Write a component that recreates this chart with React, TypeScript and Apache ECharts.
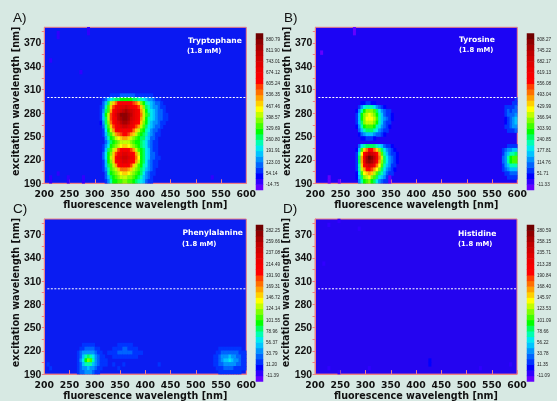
import React, { useEffect, useRef } from "react";
import * as echarts from "echarts";

const xCategories: string[] = [];
for (let x = 202.5; x < 600; x += 5) xCategories.push(String(x));
const yCategories: string[] = [];
for (let y = 192.5; y < 390; y += 5) yCategories.push(String(y));

const yLabels = [190, 220, 250, 280, 310, 340, 370];
const yTickMarks = [190, 205, 220, 235, 250, 265, 280, 295, 310, 325, 340, 355, 370, 385];

const palette = ["#6400ff", "#3000ff", "#0000ff", "#0034ff", "#0064ff", "#0094ff", "#00c4ff", "#00eaf0", "#00ffb0", "#00ff60", "#00ff00", "#40ff00", "#80ff00", "#c0ff00", "#ffff00", "#ffd000", "#ffa000", "#ff7000", "#ff4000", "#ff0000", "#f80000", "#ee0000", "#e00000", "#d00000", "#c00000", "#a80000", "#900000", "#700000"];

const trpLabels = ["880.79", "811.90", "743.01", "674.12", "605.24", "536.35", "467.46", "398.57", "329.69", "260.80", "191.91", "123.03", "54.14", "-14.75"];
const tyrLabels = ["808.27", "745.22", "682.17", "619.13", "556.08", "493.04", "429.99", "366.94", "303.90", "240.85", "177.81", "114.76", "51.71", "-11.33"];
const pheLabels = ["282.25", "259.66", "237.08", "214.49", "191.90", "169.31", "146.72", "124.14", "101.55", "78.96", "56.37", "33.79", "11.20", "-11.39"];
const hisLabels = ["280.59", "258.15", "235.71", "213.28", "190.84", "168.40", "145.97", "123.53", "101.09", "78.66", "56.22", "33.78", "11.35", "-11.09"];

// Tryptophane peak (zero cells keep the plot's background)
const trpXs = [312.5, 317.5, 322.5, 327.5, 332.5, 337.5, 342.5, 347.5, 352.5, 357.5, 362.5, 367.5, 372.5, 377.5, 382.5, 387.5, 392.5, 397.5, 402.5, 407.5, 412.5, 417.5, 422.5, 427.5, 432.5, 437.5, 442.5];
const trpYs = [302.5, 297.5, 292.5, 287.5, 282.5, 277.5, 272.5, 267.5, 262.5, 257.5, 252.5, 247.5, 242.5, 237.5, 232.5, 227.5, 222.5, 217.5, 212.5, 207.5, 202.5, 197.5, 192.5];
const trpValues = [
  [0, 0, 0, 0, 60, 70, 80, 85, 90, 95, 95, 95, 95, 90, 85, 85, 80, 75, 70, 65, 60, 0, 0, 0, 0, 0, 0],
  [0, 60, 110, 170, 220, 260, 280, 290, 300, 305, 310, 310, 305, 295, 280, 260, 235, 205, 175, 150, 125, 105, 85, 70, 0, 0, 0],
  [0, 90, 180, 290, 400, 500, 570, 610, 640, 650, 655, 650, 630, 600, 550, 470, 390, 310, 250, 205, 170, 140, 115, 95, 75, 0, 0],
  [55, 120, 230, 330, 470, 600, 650, 680, 710, 735, 745, 730, 700, 670, 630, 590, 480, 370, 290, 235, 190, 155, 130, 105, 85, 60, 0],
  [60, 150, 270, 350, 520, 630, 680, 710, 770, 810, 830, 810, 770, 730, 680, 640, 530, 410, 320, 250, 200, 165, 140, 115, 90, 70, 0],
  [60, 170, 300, 430, 590, 660, 710, 790, 850, 875, 870, 830, 780, 740, 690, 650, 540, 420, 330, 265, 205, 170, 145, 120, 100, 75, 55],
  [55, 160, 295, 420, 580, 650, 700, 780, 840, 870, 870, 825, 775, 735, 685, 640, 530, 410, 325, 260, 200, 165, 140, 115, 95, 70, 55],
  [50, 140, 280, 390, 540, 635, 680, 740, 800, 830, 830, 790, 740, 700, 650, 610, 490, 380, 310, 245, 190, 155, 130, 105, 85, 60, 0],
  [0, 110, 250, 340, 470, 600, 650, 690, 730, 745, 745, 720, 680, 640, 600, 530, 420, 340, 285, 225, 170, 135, 115, 90, 70, 0, 0],
  [0, 80, 210, 310, 410, 530, 610, 640, 660, 670, 670, 650, 620, 570, 500, 430, 360, 310, 255, 205, 150, 115, 95, 75, 0, 0, 0],
  [0, 60, 170, 280, 350, 430, 510, 560, 600, 620, 620, 590, 530, 470, 400, 360, 320, 285, 235, 180, 130, 100, 80, 60, 0, 0, 0],
  [0, 0, 130, 230, 310, 360, 410, 450, 490, 510, 510, 480, 430, 390, 350, 320, 290, 265, 215, 165, 115, 90, 70, 0, 0, 0, 0],
  [0, 0, 100, 190, 280, 320, 350, 375, 400, 420, 420, 400, 370, 345, 320, 300, 280, 250, 195, 150, 105, 80, 60, 0, 0, 0, 0],
  [0, 60, 130, 220, 300, 350, 390, 420, 450, 470, 480, 460, 430, 390, 350, 320, 290, 255, 200, 155, 105, 80, 60, 0, 0, 0, 0],
  [0, 80, 170, 270, 350, 410, 480, 580, 640, 660, 660, 640, 600, 510, 430, 360, 310, 270, 210, 160, 110, 85, 65, 0, 0, 0, 0],
  [0, 90, 200, 300, 380, 470, 600, 660, 700, 720, 720, 700, 670, 610, 520, 410, 320, 275, 215, 165, 115, 90, 70, 0, 0, 0, 0],
  [0, 90, 200, 310, 400, 500, 630, 680, 720, 745, 750, 730, 690, 640, 560, 440, 325, 280, 215, 165, 115, 90, 70, 55, 0, 0, 0],
  [0, 85, 190, 300, 390, 480, 620, 670, 700, 720, 720, 700, 670, 620, 530, 420, 320, 275, 205, 155, 110, 85, 65, 0, 0, 0, 0],
  [0, 70, 170, 280, 360, 430, 520, 610, 650, 670, 670, 640, 590, 500, 420, 360, 305, 260, 195, 145, 100, 75, 60, 0, 0, 0, 0],
  [0, 60, 150, 260, 330, 380, 430, 490, 540, 560, 560, 520, 470, 420, 380, 330, 285, 235, 175, 130, 90, 65, 0, 0, 0, 0, 0],
  [0, 0, 120, 230, 310, 350, 390, 420, 450, 470, 470, 440, 410, 380, 350, 310, 265, 210, 155, 115, 80, 60, 0, 0, 0, 0, 0],
  [0, 0, 90, 180, 280, 320, 350, 380, 400, 410, 410, 395, 370, 350, 320, 285, 240, 185, 135, 100, 70, 0, 0, 0, 0, 0, 0],
  [0, 0, 60, 130, 240, 300, 320, 340, 360, 370, 370, 355, 340, 320, 295, 260, 210, 160, 115, 85, 60, 0, 0, 0, 0, 0, 0],
];
const trpStreaks = [[212.5, 192.5, 0], [212.5, 197.5, 0], [227.5, 202.5, 0], [247.5, 192.5, 0], [247.5, 197.5, 0], [277.5, 192.5, 0], [277.5, 197.5, 0], [532.5, 197.5, 0], [227.5, 382.5, 0], [227.5, 377.5, 0], [287.5, 387.5, 0], [287.5, 382.5, 0], [212.5, 347.5, 0], [272.5, 332.5, 0]];

// Tyrosine peaks
const tyrXs = [282.5, 287.5, 292.5, 297.5, 302.5, 307.5, 312.5, 317.5, 322.5, 327.5, 332.5, 337.5, 342.5, 347.5, 352.5, 357.5, 362.5];
const tyrYs = [292.5, 287.5, 282.5, 277.5, 272.5, 267.5, 262.5, 257.5, 252.5, 247.5, 237.5, 232.5, 227.5, 222.5, 217.5, 212.5, 207.5, 202.5, 197.5, 192.5];
const tyrValues = [
  [0, 0, 30, 40, 55, 60, 50, 40, 0, 0, 0, 0, 0, 0, 0, 0, 0],
  [0, 70, 140, 190, 220, 230, 220, 190, 140, 100, 70, 50, 0, 0, 0, 0, 0],
  [50, 140, 240, 300, 340, 350, 340, 310, 250, 190, 130, 90, 70, 55, 0, 0, 0],
  [60, 170, 280, 350, 390, 405, 395, 360, 300, 230, 160, 110, 80, 60, 50, 0, 0],
  [60, 170, 290, 360, 400, 415, 400, 370, 310, 240, 165, 115, 85, 60, 50, 0, 0],
  [55, 160, 270, 340, 380, 390, 375, 340, 280, 215, 150, 105, 75, 55, 0, 0, 0],
  [50, 120, 220, 290, 320, 330, 320, 290, 240, 180, 125, 90, 65, 50, 0, 0, 0],
  [0, 90, 170, 220, 250, 250, 245, 220, 180, 135, 100, 75, 55, 0, 0, 0, 0],
  [0, 50, 100, 130, 150, 155, 150, 130, 105, 85, 65, 50, 0, 0, 0, 0, 0],
  [0, 0, 40, 50, 60, 60, 60, 50, 0, 0, 0, 0, 0, 0, 0, 0, 0],
  [0, 90, 180, 230, 245, 250, 250, 245, 230, 205, 160, 110, 80, 60, 50, 0, 0],
  [50, 170, 330, 440, 520, 560, 560, 520, 450, 350, 270, 190, 130, 90, 65, 50, 0],
  [60, 220, 420, 580, 680, 720, 700, 660, 580, 470, 330, 240, 170, 110, 80, 60, 50],
  [70, 250, 470, 640, 770, 810, 790, 720, 630, 510, 370, 270, 190, 130, 90, 70, 50],
  [70, 260, 480, 650, 760, 800, 770, 700, 600, 480, 350, 260, 190, 130, 90, 65, 50],
  [65, 240, 440, 600, 680, 700, 660, 600, 500, 410, 320, 240, 170, 115, 80, 60, 0],
  [60, 210, 380, 490, 560, 590, 540, 480, 410, 340, 260, 195, 140, 95, 65, 50, 0],
  [50, 180, 310, 400, 450, 470, 430, 390, 330, 270, 210, 155, 110, 75, 55, 0, 0],
  [50, 150, 260, 340, 380, 400, 350, 310, 260, 205, 155, 115, 80, 60, 0, 0, 0],
  [0, 120, 220, 290, 330, 340, 290, 250, 190, 140, 105, 75, 55, 0, 0, 0, 0],
];
const tyrEdgeXs = [572.5, 577.5, 582.5, 587.5, 592.5, 597.5];
const tyrEdgeYs = [297.5, 292.5, 287.5, 282.5, 277.5, 272.5, 267.5, 262.5, 257.5, 237.5, 232.5, 227.5, 222.5, 217.5, 212.5, 207.5, 202.5, 197.5];
const tyrEdgeValues = [
  [0, 0, 0, 0, 0, 55],
  [0, 0, 0, 0, 55, 70],
  [0, 55, 65, 60, 70, 85],
  [0, 60, 85, 80, 85, 95],
  [0, 55, 85, 90, 110, 125],
  [0, 50, 75, 100, 140, 150],
  [0, 50, 75, 100, 145, 155],
  [0, 55, 70, 90, 120, 125],
  [0, 0, 60, 70, 80, 85],
  [0, 0, 55, 60, 65, 70],
  [55, 85, 115, 140, 150, 155],
  [80, 120, 170, 220, 240, 250],
  [90, 140, 210, 280, 310, 315],
  [90, 140, 210, 280, 305, 310],
  [80, 120, 165, 215, 235, 240],
  [60, 90, 120, 150, 165, 170],
  [0, 60, 80, 90, 100, 100],
  [0, 0, 55, 60, 60, 60],
];
const tyrStreaks = [[227.5, 192.5, -20], [227.5, 197.5, -20], [277.5, 387.5, -20], [277.5, 382.5, -20], [212.5, 357.5, -20], [247.5, 192.5, -20], [347.5, 192.5, -20], [347.5, 197.5, -20]];

// Phenylalanine peaks
const pheAXs = [262.5, 267.5, 272.5, 277.5, 282.5, 287.5, 292.5, 297.5, 302.5, 307.5, 312.5, 317.5, 322.5];
const pheAYs = [227.5, 222.5, 217.5, 212.5, 207.5, 202.5, 197.5, 192.5];
const pheAValues = [
  [0, 0, 0, 12, 14, 15, 14, 12, 0, 0, 0, 0, 0],
  [0, 0, 14, 22, 26, 28, 28, 25, 18, 13, 0, 0, 0],
  [0, 13, 24, 34, 40, 44, 44, 38, 28, 20, 14, 0, 0],
  [0, 16, 30, 48, 70, 82, 78, 58, 36, 26, 18, 13, 0],
  [0, 18, 34, 58, 92, 118, 108, 72, 42, 30, 20, 14, 12],
  [0, 16, 32, 50, 68, 76, 74, 56, 38, 28, 18, 13, 12],
  [0, 14, 28, 38, 44, 46, 44, 38, 28, 18, 13, 0, 0],
  [0, 13, 24, 32, 36, 38, 36, 30, 22, 14, 0, 0, 0],
];
const pheBXs = [327.5, 332.5, 337.5, 342.5, 347.5, 352.5, 357.5, 362.5, 367.5, 372.5, 377.5, 382.5, 387.5, 392.5];
const pheBYs = [227.5, 222.5, 217.5, 212.5];
const pheBValues = [
  [0, 0, 0, 0, 13, 14, 15, 15, 14, 13, 0, 0, 0, 0],
  [0, 0, 14, 18, 20, 22, 24, 24, 22, 20, 18, 14, 0, 0],
  [12, 15, 18, 22, 24, 26, 27, 27, 26, 24, 22, 18, 14, 12],
  [0, 0, 12, 14, 16, 18, 18, 18, 17, 15, 14, 13, 0, 0],
];
const pheCXs = [537.5, 542.5, 547.5, 552.5, 557.5, 562.5, 567.5, 572.5, 577.5, 582.5, 587.5, 592.5, 597.5];
const pheCYs = [222.5, 217.5, 212.5, 207.5, 202.5, 197.5, 192.5];
const pheCValues = [
  [0, 0, 13, 16, 18, 20, 20, 18, 16, 15, 14, 0, 0],
  [0, 13, 20, 24, 28, 30, 32, 28, 26, 24, 22, 14, 12],
  [12, 18, 28, 34, 42, 44, 46, 42, 36, 32, 28, 20, 14],
  [14, 22, 32, 40, 50, 56, 58, 50, 42, 36, 30, 22, 16],
  [13, 20, 28, 32, 38, 44, 44, 40, 34, 30, 26, 20, 14],
  [0, 14, 18, 22, 26, 28, 30, 26, 22, 20, 18, 14, 12],
  [0, 0, 13, 14, 16, 16, 16, 14, 14, 13, 12, 0, 0],
];
const pheStreaks = [[207.5, 202.5, 14], [212.5, 197.5, 14], [337.5, 202.5, 14], [347.5, 197.5, 14], [357.5, 202.5, 14], [427.5, 202.5, 14]];

// Histidine: only faint streaks
const hisStreaks = [[427.5, 207.5, 10], [427.5, 202.5, 10], [227.5, 382.5, -9], [247.5, 387.5, -9], [287.5, 377.5, -9], [227.5, 197.5, -9], [247.5, 192.5, -9], [307.5, 197.5, -9], [527.5, 197.5, -9], [587.5, 202.5, -9], [217.5, 332.5, -9]];

const panelLetters = ["A)", "B)", "C)", "D)"];
const compounds = ["Tryptophane", "Tyrosine", "Phenylalanine", "Histidine"];
const concentration = "(1.8 mM)";

const grid = (x: number[], ys: number[], rows: number[][]) => {
  const out: any[] = [];
  rows.forEach((r, j) => r.forEach((v, i) => { if (v !== 0) out.push([String(x[i]), String(ys[j]), v]); }));
  return out;
};
const streaks = (list: number[][]) => list.map((s) => [String(s[0]), String(s[1]), s[2]]);

const panelData = [
  [...grid(trpXs, trpYs, trpValues), ...streaks(trpStreaks)],
  [...grid(tyrXs, tyrYs, tyrValues), ...grid(tyrEdgeXs, tyrEdgeYs, tyrEdgeValues), ...streaks(tyrStreaks)],
  [...grid(pheAXs, pheAYs, pheAValues), ...grid(pheBXs, pheBYs, pheBValues), ...grid(pheCXs, pheCYs, pheCValues), ...streaks(pheStreaks)],
  streaks(hisStreaks),
];
const panelLabels = [trpLabels, tyrLabels, pheLabels, hisLabels];
const plotBg = ["#0a18f2", "#1c04f4", "#0a1cf2", "#2404f0"];

const layout = [
  { left: 44.3, top: 27.3, barLeft: 256, barTop: 33.5, lx: 13, ly: 18, tx: 188, ty: 40, cx: 187, cy: 51 },
  { left: 315.3, top: 27.3, barLeft: 527, barTop: 33.5, lx: 284, ly: 18, tx: 459, ty: 39.5, cx: 459, cy: 50.5 },
  { left: 44.3, top: 219, barLeft: 256, barTop: 225, lx: 13, ly: 209, tx: 182.5, ty: 232, cx: 182, cy: 244 },
  { left: 315, top: 219, barLeft: 527, barTop: 225, lx: 283, ly: 209, tx: 458, ty: 233, cx: 458, cy: 244 },
];

const FONT = "'DejaVu Sans', sans-serif";
const PINK = "#ee7f86";

function buildOption() {
  const grids: any[] = [], xAxis: any[] = [], yAxis: any[] = [], series: any[] = [], visualMap: any[] = [], graphic: any[] = [];
  const bandIdx = palette.map((_, i) => String(i));

  layout.forEach((p, k) => {
    const labels = panelLabels[k];
    const top = parseFloat(labels[0]);
    const step = (top - parseFloat(labels[13])) / 13;
    const low = parseFloat(labels[13]) - step / 2;
    const pieces = palette.map((c, i) => ({ min: low + (i * step) / 2, max: low + ((i + 1) * step) / 2, color: c }));

    const gi = grids.length;
    grids.push({ left: p.left, top: p.top, width: 202, height: 156, show: true, backgroundColor: plotBg[k], borderColor: PINK, borderWidth: 1 });
    const gb = grids.length;
    grids.push({ left: p.barLeft, top: p.barTop, width: 7, height: 156.5, show: false });

    const cx = xAxis.length;
    xAxis.push({ type: "category", gridIndex: gi, data: xCategories, show: false });
    const vx = xAxis.length;
    xAxis.push({
      type: "value", gridIndex: gi, position: "bottom", min: 200, max: 600, interval: 50,
      name: "fluorescence wavelength [nm]", nameLocation: "middle", nameGap: 15,
      nameTextStyle: { fontFamily: FONT, fontWeight: "bold", fontSize: 9.6, color: "#111" },
      axisLine: { show: true, lineStyle: { color: PINK, width: 1 } },
      axisTick: { show: true, inside: true, length: 4, lineStyle: { color: PINK, width: 1 } },
      axisLabel: { fontFamily: FONT, fontWeight: "bold", fontSize: 9.3, color: "#111", margin: 6, hideOverlap: false, showMinLabel: true, showMaxLabel: true },
      splitLine: { show: false },
    });
    const bx = xAxis.length;
    xAxis.push({ type: "category", gridIndex: gb, data: ["bar"], show: false });

    const cy = yAxis.length;
    yAxis.push({ type: "category", gridIndex: gi, data: yCategories, show: false });
    const vy = yAxis.length;
    yAxis.push({
      type: "value", gridIndex: gi, position: "left", min: 190, max: 390,
      name: "excitation wavelength [nm]", nameLocation: "middle", nameGap: 20,
      nameTextStyle: { fontFamily: FONT, fontWeight: "bold", fontSize: 9.6, color: "#111", padding: [0, 0, 0, 8] },
      axisLine: { show: true, lineStyle: { color: PINK, width: 1 } },
      axisTick: { show: true, length: 2.5, customValues: yTickMarks, lineStyle: { color: PINK, width: 1 } },
      axisLabel: { fontFamily: "'Liberation Sans', sans-serif", fontWeight: "bold", fontSize: 10.4, color: "#111", margin: 3, customValues: yLabels },
      splitLine: { show: false },
    });
    const by = yAxis.length;
    yAxis.push({ type: "category", gridIndex: gb, data: bandIdx, show: false });
    yAxis.push({
      type: "category", gridIndex: gb, position: "right", data: [...labels].reverse(),
      axisLine: { show: false }, axisTick: { show: false },
      axisLabel: { fontFamily: "'Liberation Sans', sans-serif", fontSize: 4.6, color: "#222", margin: 3, interval: 0 },
    });

    const hs = series.length;
    series.push({ type: "heatmap", xAxisIndex: cx, yAxisIndex: cy, data: panelData[k], itemStyle: { borderWidth: 0 }, progressive: 0 });
    const bs = series.length;
    series.push({
      type: "heatmap", xAxisIndex: bx, yAxisIndex: by,
      data: palette.map((_, i) => ["bar", String(i), pieces[i].min + step / 4]),
      itemStyle: { borderWidth: 0 },
    });
    series.push({
      type: "line", xAxisIndex: vx, yAxisIndex: vy, data: [[206, 300], [600, 300]], showSymbol: false, silent: true,
      lineStyle: { color: "#ffffff", width: 1, type: [2, 1.5] },
    });
    // open the outermost pieces so off-scale cells still take a colour
    const vmPieces = pieces.map((q, i) => ({ ...q, min: i === 0 ? -1e6 : q.min, max: i === 27 ? 1e6 : q.max }));
    visualMap.push({ type: "piecewise", show: false, seriesIndex: [hs, bs], dimension: 2, pieces: vmPieces });

    graphic.push(
      { type: "text", left: p.lx, top: p.ly - 8, style: { text: panelLetters[k], font: `13.5px 'Liberation Sans', sans-serif`, fill: "#111" } },
      { type: "text", left: p.tx, top: p.ty - 4, z: 10, style: { text: compounds[k], font: `bold 7.6px ${FONT}`, fill: "#fff" } },
      { type: "text", left: p.cx, top: p.cy - 4, z: 10, style: { text: concentration, font: `bold 6.8px ${FONT}`, fill: "#fff" } },
    );
  });

  return { animation: false, backgroundColor: "#d7e9e3", grid: grids, xAxis, yAxis, series, visualMap, graphic };
}

export default function App() {
  const ref = useRef<HTMLDivElement>(null);
  useEffect(() => {
    document.body.style.margin = "0";
    document.body.style.background = "#d7e9e3";
    const chart = echarts.init(ref.current!, undefined, { renderer: "svg" });
    chart.setOption(buildOption() as any);
    return () => chart.dispose();
  }, []);
  return <div ref={ref} style={{ position: "absolute", left: 0, top: 0, width: 557, height: 401, filter: "blur(0.6px)" }} />;
}
